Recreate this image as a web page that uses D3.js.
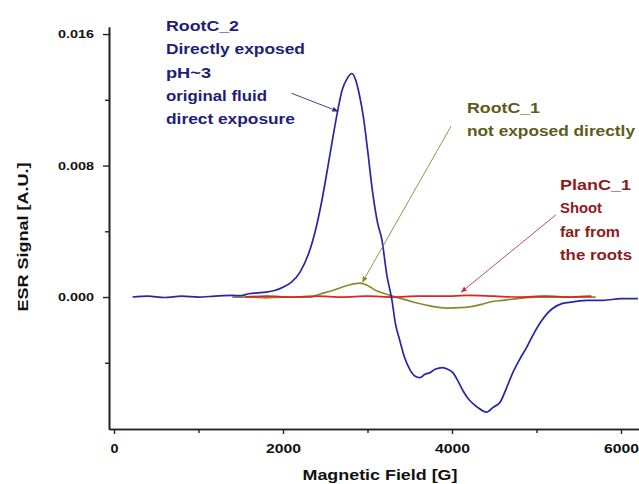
<!DOCTYPE html>
<html>
<head>
<meta charset="utf-8">
<script src="https://cdn.jsdelivr.net/npm/d3@7"></script>
<style>
  body { margin: 0; background: #fff; }
  text { font-family: "Liberation Sans", Arial, sans-serif; font-weight: bold; }
</style>
</head>
<body>
<svg id="chart"></svg>
<script>
// magnetic field (G) and ESR signal (A.U.)
let fieldRoot2 = [220, 400, 600, 800, 1000, 1200, 1400, 1500, 1600, 1700, 1800, 1900, 2000, 2100, 2200, 2300, 2350, 2400, 2450, 2500, 2550, 2600, 2650, 2700, 2760, 2816, 2860, 2900, 2950, 3000, 3060, 3120, 3170, 3230, 3290, 3330, 3380, 3440, 3500, 3560, 3620, 3680, 3740, 3800, 3890, 3950, 4010, 4070, 4130, 4210, 4300, 4410, 4490, 4570, 4640, 4720, 4800, 4890, 4960, 5040, 5110, 5190, 5300, 5430, 5600, 5790, 6000, 6200];
let signalRoot2 = [0.0000, 0.00005, -0.00003, 0.00005, 0.0000, 0.00006, 0.0001, 0.00008, 0.0002, 0.00025, 0.0003, 0.0004, 0.0006, 0.0009, 0.0015, 0.0026, 0.0034, 0.0044, 0.0056, 0.0070, 0.0085, 0.0100, 0.0114, 0.0126, 0.0133, 0.0136, 0.0132, 0.0124, 0.0110, 0.0090, 0.0064, 0.0045, 0.0035, 0.0013, -0.0002, -0.0016, -0.0026, -0.0037, -0.0044, -0.0048, -0.0049, -0.0047, -0.0046, -0.0044, -0.0043, -0.0044, -0.0046, -0.0051, -0.0057, -0.0063, -0.0067, -0.0070, -0.0067, -0.0064, -0.0056, -0.0046, -0.0038, -0.0030, -0.0023, -0.0016, -0.0011, -0.0007, -0.0004, -0.0003, -0.0002, -0.0002, -0.0001, -0.0001];

let fieldRoot1 = [1400, 1600, 1800, 2000, 2200, 2320, 2450, 2590, 2760, 2910, 3000, 3100, 3270, 3400, 3540, 3700, 3940, 4100, 4210, 4350, 4450, 4600, 4770, 5000, 5300, 5700];
let signalRoot1 = [0.0000, 0.0000, -0.00005, 0.0000, 0.0000, 0.0000, 0.0002, 0.0004, 0.0007, 0.00085, 0.0007, 0.0004, 0.0001, -0.0001, -0.0003, -0.0005, -0.00067, -0.00065, -0.0006, -0.00045, -0.0003, -0.0002, -0.0001, 0.0000, 0.0000, 0.0000];

let fieldPlant1 = [1550, 1800, 2100, 2400, 2700, 3000, 3300, 3600, 3900, 4200, 4500, 4800, 5100, 5400, 5650];
let signalPlant1 = [0.0000, 0.00005, 0.0000, 0.00005, 0.0000, 0.00005, 0.0000, 0.00005, 0.00005, 0.0001, 0.00005, 0.0000, 0.00005, 0.0000, 0.00005];

let xTicks = [0, 2000, 4000, 6000];
let xMinorTicks = [1000, 3000, 5000];
let yTicks = [0, 0.008, 0.016];
let yMinorTicks = [-0.004, 0.004, 0.012];

let labelRoot2 = ['RootC_2', 'Directly exposed', 'pH~3', 'original fluid', 'direct exposure'];
let labelRoot1 = ['RootC_1', 'not exposed directly'];
let labelPlant1 = ['PlanC_1', 'Shoot', 'far from', 'the roots'];

function makeChart() {
	let w = 639;
	let h = 484;
	let marginT = 27;
	let marginL = 109;
	let marginR = 0;
	let marginB = 55;

	let chart = d3.select('#chart')
		.attr('width', w)
		.attr('height', h);

	let xScale = d3.scaleLinear()
		.domain([-59, 6213])
		.range([marginL, w - marginR]);

	let yScale = d3.scaleLinear()
		.domain([-0.00803, 0.01643])
		.range([h - marginB, marginT]);

	let line = d3.line()
		.curve(d3.curveMonotoneX)
		.x(d => xScale(d[0]))
		.y(d => yScale(d[1]));

	let series = [
		{ x: fieldRoot1, y: signalRoot1, color: '#8a8a2c' },
		{ x: fieldPlant1, y: signalPlant1, color: '#e0241e' },
		{ x: fieldRoot2, y: signalRoot2, color: '#2626a8' },
	];

	series.forEach(s => {
		chart.append('path')
			.datum(d3.zip(s.x, s.y))
			.attr('fill', 'none')
			.attr('stroke', s.color)
			.attr('stroke-width', 1.7)
			.attr('stroke-linejoin', 'round')
			.attr('d', line);
	});

	// axes
	let xAxis = chart.append('g')
		.attr('transform', `translate(0,${h - marginB})`)
		.call(d3.axisBottom(xScale).tickValues(xTicks).tickSize(5).tickSizeOuter(0).tickPadding(10).tickFormat(d3.format('d')));
	chart.append('g')
		.attr('transform', `translate(0,${h - marginB})`)
		.call(d3.axisBottom(xScale).tickValues(xMinorTicks).tickSize(4).tickSizeOuter(0).tickFormat(''));

	let yAxis = chart.append('g')
		.attr('transform', `translate(${marginL},0)`)
		.call(d3.axisLeft(yScale).tickValues(yTicks).tickSize(6).tickSizeOuter(0).tickPadding(9).tickFormat(d3.format('.3f')));
	chart.append('g')
		.attr('transform', `translate(${marginL},0)`)
		.call(d3.axisLeft(yScale).tickValues(yMinorTicks).tickSize(4).tickSizeOuter(0).tickFormat(''));

	chart.selectAll('.domain').attr('stroke', '#222').attr('stroke-width', 1.6);
	chart.selectAll('.tick line').attr('stroke', '#222').attr('stroke-width', 1.4);

	xAxis.selectAll('text')
		.attr('font-size', 13)
		.attr('fill', '#111')
		.attr('textLength', d => d === 0 ? 8 : 35)
		.attr('lengthAdjust', 'spacingAndGlyphs');
	yAxis.selectAll('text')
		.attr('font-size', 11)
		.attr('fill', '#111')
		.attr('textLength', 36)
		.attr('lengthAdjust', 'spacingAndGlyphs');

	// axis titles
	chart.append('text')
		.attr('x', 380)
		.attr('y', 480)
		.attr('text-anchor', 'middle')
		.attr('font-size', 15)
		.attr('fill', '#111')
		.attr('textLength', 155)
		.attr('lengthAdjust', 'spacingAndGlyphs')
		.text('Magnetic Field [G]');

	chart.append('text')
		.attr('transform', 'translate(28,237) rotate(-90)')
		.attr('text-anchor', 'middle')
		.attr('font-size', 15)
		.attr('fill', '#111')
		.attr('textLength', 149)
		.attr('lengthAdjust', 'spacingAndGlyphs')
		.text('ESR Signal [A.U.]');

	// annotations
	let defs = chart.append('defs');
	function arrowMarker(id, color) {
		defs.append('marker')
			.attr('id', id)
			.attr('viewBox', '0 0 10 10')
			.attr('refX', 9)
			.attr('refY', 5)
			.attr('markerWidth', 7)
			.attr('markerHeight', 7)
			.attr('orient', 'auto')
			.append('path')
			.attr('d', 'M0,1 L10,5 L0,9 z')
			.attr('fill', color);
	}

	let notes = [
		{ lines: labelRoot2, widths: [73, 139, 45, 101, 129], x: 166, y: 31, color: '#1e1e78', lineColor: '#2a2a80',
		  from: [2100, 0.0124], to: [2650, 0.0113] },
		{ lines: labelRoot1, widths: [73, 168], x: 467, y: 113, color: '#5c5c1c', lineColor: '#8a8a30',
		  from: [3990, 0.0104], to: [2940, 0.0009] },
		{ lines: labelPlant1, widths: [71, 42, 60, 72], x: 560, y: 190, color: '#8c1c1c', lineColor: '#b04040',
		  from: [5230, 0.0050], to: [4110, 0.0003] },
	];

	notes.forEach((n, k) => {
		arrowMarker('arr' + k, n.lineColor);
		chart.append('line')
			.attr('x1', xScale(n.from[0]))
			.attr('y1', yScale(n.from[1]))
			.attr('x2', xScale(n.to[0]))
			.attr('y2', yScale(n.to[1]))
			.attr('stroke', n.lineColor)
			.attr('stroke-width', 0.9)
			.attr('marker-end', `url(#arr${k})`);
		n.lines.forEach((t, i) => {
			chart.append('text')
				.attr('x', n.x)
				.attr('y', n.y + i * 23.3)
				.attr('font-size', 14)
				.attr('fill', n.color)
				.attr('textLength', n.widths[i])
				.attr('lengthAdjust', 'spacingAndGlyphs')
				.text(t);
		});
	});
}

window.onload = function () {
	makeChart();
}
</script>
</body>
</html>
